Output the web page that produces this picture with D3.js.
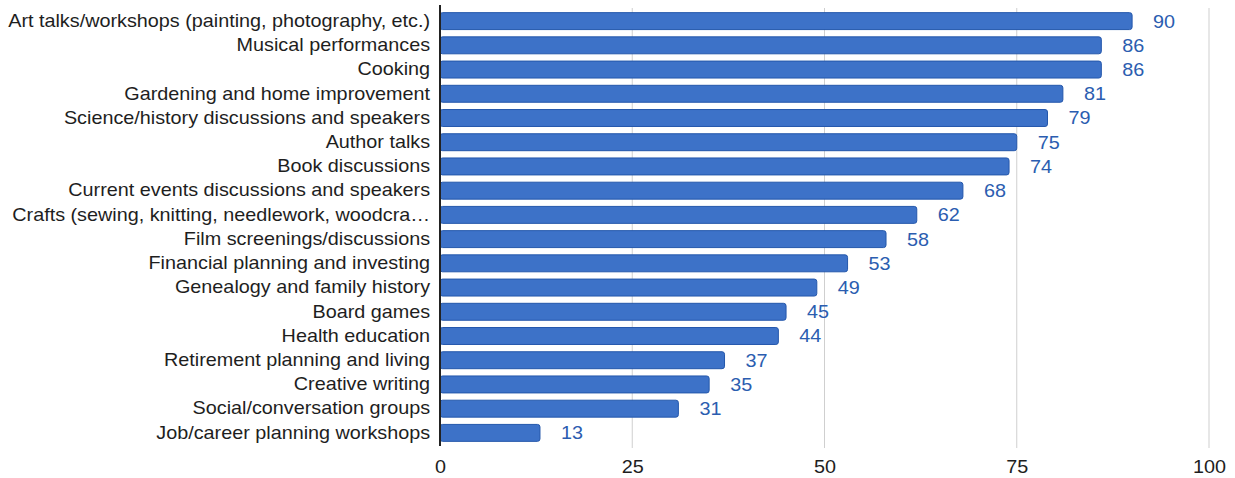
<!DOCTYPE html>
<html>
<head>
<meta charset="utf-8">
<script src="https://cdn.jsdelivr.net/npm/d3@7"></script>
<style>
  html, body { margin: 0; padding: 0; background: #ffffff; }
  svg { display: block; }
  text { font-family: "Liberation Sans", Arial, sans-serif; }
</style>
</head>
<body>
<svg id="chart" width="1235" height="478"></svg>
<script>
// Program interest (count of respondents) by topic
const categories = [
  "Art talks/workshops (painting, photography, etc.)",
  "Musical performances",
  "Cooking",
  "Gardening and home improvement",
  "Science/history discussions and speakers",
  "Author talks",
  "Book discussions",
  "Current events discussions and speakers",
  "Crafts (sewing, knitting, needlework, woodcra\u2026",
  "Film screenings/discussions",
  "Financial planning and investing",
  "Genealogy and family history",
  "Board games",
  "Health education",
  "Retirement planning and living",
  "Creative writing",
  "Social/conversation groups",
  "Job/career planning workshops"
];
const values = [90, 86, 86, 81, 79, 75, 74, 68, 62, 58, 53, 49, 45, 44, 37, 35, 31, 13];
const xTicks = [0, 25, 50, 75, 100];

const svg = d3.select("#chart");
const plotLeft = 440, plotRight = 1209, plotTop = 9, plotBottom = 445;
const fontSize = 18, stretch = 1.1;

const x = d3.scaleLinear().domain([0, 100]).range([plotLeft, plotRight]);
const y = d3.scaleBand().domain(categories).range([plotTop, plotBottom]).paddingInner(0.3).paddingOuter(0.15);

// vertical gridlines
svg.append("g")
  .selectAll("line")
  .data(xTicks.filter(d => d > 0))
  .join("line")
  .attr("x1", d => x(d)).attr("x2", d => x(d))
  .attr("y1", 8).attr("y2", 448)
  .attr("stroke", "#cfcfcf").attr("stroke-width", 1);

// bars
svg.append("g")
  .selectAll("rect")
  .data(values)
  .join("rect")
  .attr("x", x(0))
  .attr("y", (d, i) => y(categories[i]))
  .attr("width", d => x(d) - x(0))
  .attr("height", y.bandwidth())
  .attr("rx", 2.5)
  .attr("fill", "#3d72c8")
  .attr("stroke", "#2457ab")
  .attr("stroke-width", 1);

// value labels
svg.append("g")
  .selectAll("text")
  .data(values)
  .join("text")
  .attr("transform", (d, i) => `translate(${x(d) + 21},${y(categories[i]) + y.bandwidth() / 2}) scale(${stretch},1)`)
  .attr("dy", "0.36em")
  .attr("fill", "#2b5db0")
  .attr("font-size", fontSize)
  .text(d => d);

// category axis
const yAxis = d3.axisLeft(y).tickSize(0).tickPadding(9);
const gy = svg.append("g").attr("transform", `translate(${plotLeft},0)`).call(yAxis);
gy.select(".domain").remove();
gy.selectAll("text").attr("font-size", fontSize).attr("fill", "#1e1e1e")
  .attr("transform", `scale(${stretch},1)`)
  .style("font-family", "'Liberation Sans', Arial, sans-serif");

// baseline
svg.append("line")
  .attr("x1", plotLeft).attr("x2", plotLeft)
  .attr("y1", 5).attr("y2", 446)
  .attr("stroke", "#222").attr("stroke-width", 2);

// value axis labels
const xAxis = d3.axisBottom(x).tickValues(xTicks).tickSize(0).tickPadding(0);
const gx = svg.append("g").attr("transform", "translate(0,460)").call(xAxis);
gx.select(".domain").remove();
gx.selectAll("text").attr("font-size", fontSize).attr("fill", "#1e1e1e")
  .attr("dy", "0.71em")
  .attr("transform", `scale(${stretch},1)`)
  .style("font-family", "'Liberation Sans', Arial, sans-serif");
</script>
</body>
</html>
